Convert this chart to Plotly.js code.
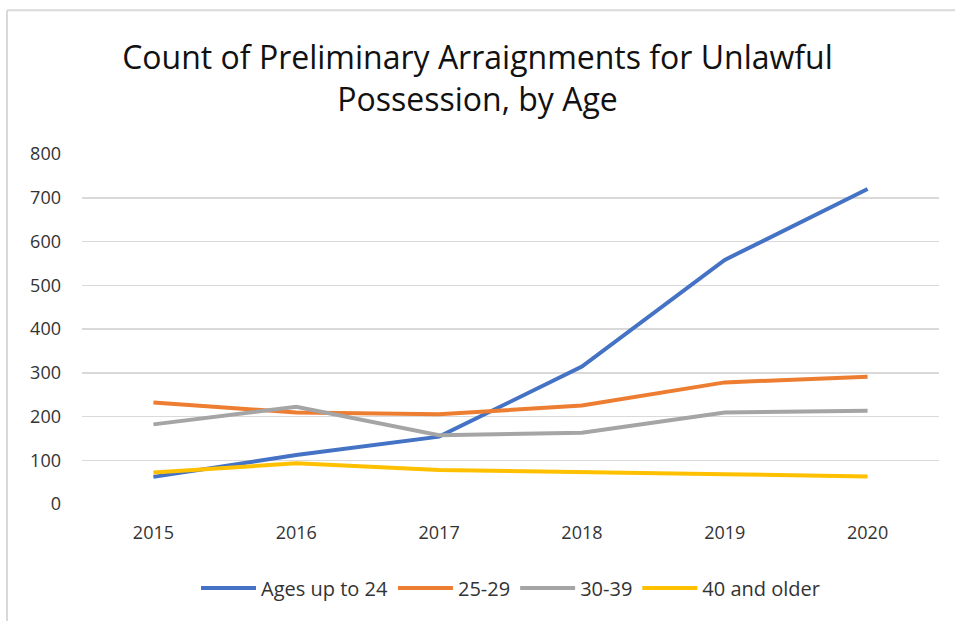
<!DOCTYPE html>
<html>
<head>
<meta charset="utf-8">
<script src="https://cdn.plot.ly/plotly-3.0.1.min.js"></script>
<style>html,body{margin:0;padding:0;background:#fff}#chart{width:955px;height:621px}</style>
</head>
<body>
<div id="chart"></div>
<script>
const years = ["2015", "2016", "2017", "2018", "2019", "2020"];
const seriesNames = ["Ages up to 24", "25-29", "30-39", "40 and older"];
const agesUpTo24 = [62, 112, 154, 314, 558, 720];
const ages25to29 = [232, 209, 205, 225, 278, 291];
const ages30to39 = [182, 222, 157, 163, 209, 213];
const ages40plus = [72, 93, 78, 72, 68, 63];
const colors = ["#4472C4", "#ED7D31", "#A5A5A5", "#FFC000"];

const allValues = [agesUpTo24, ages25to29, ages30to39, ages40plus];
const traces = allValues.map((vals, i) => ({
  type: "scatter",
  mode: "lines",
  x: years,
  y: vals,
  name: seriesNames[i],
  line: {color: colors[i], width: 4}
}));

const layout = {
  width: 955, height: 621,
  margin: {l: 82, r: 16, t: 154, b: 117},
  paper_bgcolor: "#fff", plot_bgcolor: "#fff",
  font: {family: "Open Sans, Noto Sans, sans-serif", color: "#333", size: 18},
  title: {
    text: "Count of Preliminary Arraignments for Unlawful<br>Possession, by Age",
    font: {size: 32, color: "#111", family: "Open Sans, Noto Sans, sans-serif"},
    x: 0.5, xanchor: "center", y: 0.889, yanchor: "middle"
  },
  xaxis: {
    type: "category",
    showgrid: false, zeroline: false, showline: false,
    ticks: "", tickfont: {size: 18, color: "#333"},
    ticklabelstandoff: 16,
    range: [-0.5, 5.5]
  },
  yaxis: {
    range: [0, 800], dtick: 100, tick0: 0,
    showgrid: true, gridcolor: "#d9d9d9", gridwidth: 1.5,
    zeroline: false, showline: false, ticks: "",
    tickfont: {size: 18, color: "#333"},
    ticklabelstandoff: 20
  },
  showlegend: true,
  legend: {
    orientation: "h", x: 0.5, xanchor: "center", y: -0.24, yanchor: "middle",
    font: {size: 20, color: "#333"}, traceorder: "normal",
    itemwidth: 55
  },
  shapes: [
    {type: "line", xref: "paper", yref: "paper", x0: -0.0875, x1: 1.02, y0: 1.411, y1: 1.411, line: {color: "#d9d9d9", width: 2}},
    {type: "line", xref: "paper", yref: "paper", x0: -0.0875, x1: -0.0875, y0: 1.411, y1: -0.34, line: {color: "#d9d9d9", width: 2}}
  ]
};

Plotly.newPlot("chart", traces, layout, {displayModeBar: false, staticPlot: true});
</script>
</body>
</html>
